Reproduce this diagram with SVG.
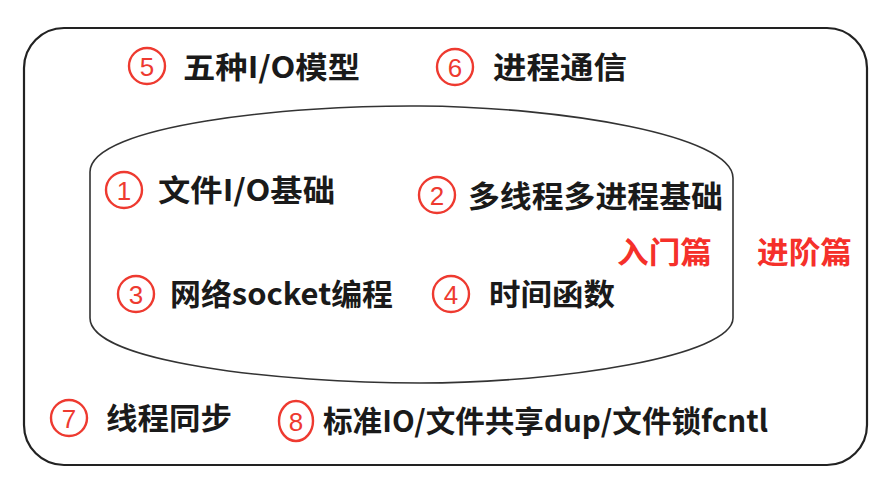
<svg xmlns="http://www.w3.org/2000/svg" width="889" height="489" viewBox="0 0 889 489">
<defs>
<style>
.frame{fill:none;stroke:#222;stroke-width:2.2}
.blob{fill:none;stroke:#333;stroke-width:1.6}
.circ{fill:#fff;stroke:#ee3a30;stroke-width:2.4}
.num{fill:#ee3a30;font-family:"Liberation Sans","Noto Sans",sans-serif;font-size:26px;text-anchor:middle}
.lbl{fill:#1a1a1a;font-family:"Noto Sans CJK SC","Noto Sans",sans-serif;font-size:30px;font-weight:700}
.red{fill:#f5302a;font-family:"Noto Sans CJK SC",sans-serif;font-size:30px;font-weight:700}
</style>
</defs>
<rect width="889" height="489" fill="#fff"/>
<rect class="frame" x="24" y="28" width="843" height="437" rx="40" ry="40"/>
<g id="connectors"></g>
<path id="core" class="blob" d="M 90,172 C 90,125 290,105 420,106 C 560,107 733,135 733,178 L 733,318 C 733,356 560,383 420,383 C 280,383 90,362 90,318 Z"/>
<g id="n5"><circle class="circ" cx="147" cy="66" r="18"/><text class="num" x="147" y="75.5">5</text><text class="lbl" x="183" y="78" textLength="177" lengthAdjust="spacingAndGlyphs">五种I/O模型</text></g>
<g id="n6"><circle class="circ" cx="455" cy="67" r="18"/><text class="num" x="455" y="76.5">6</text><text class="lbl" x="493" y="78" textLength="134" lengthAdjust="spacingAndGlyphs">进程通信</text></g>
<g id="n1"><circle class="circ" cx="124" cy="190" r="18"/><text class="num" x="124" y="199.5">1</text><text class="lbl" x="158" y="201" textLength="177" lengthAdjust="spacingAndGlyphs">文件I/O基础</text></g>
<g id="n2"><circle class="circ" cx="437" cy="195" r="18"/><text class="num" x="437" y="204.5">2</text><text class="lbl" x="468" y="207" textLength="255" lengthAdjust="spacingAndGlyphs">多线程多进程基础</text></g>
<g id="n3"><circle class="circ" cx="136" cy="294" r="18"/><text class="num" x="136" y="303.5">3</text><text class="lbl" x="170" y="305" textLength="223" lengthAdjust="spacingAndGlyphs">网络socket编程</text></g>
<g id="n4"><circle class="circ" cx="451" cy="294" r="18"/><text class="num" x="451" y="303.5">4</text><text class="lbl" x="489" y="305" textLength="126" lengthAdjust="spacingAndGlyphs">时间函数</text></g>
<g id="intro"><text class="red" x="617" y="263" textLength="95" lengthAdjust="spacingAndGlyphs">入门篇</text></g>
<g id="advanced"><text class="red" x="757" y="263" textLength="95" lengthAdjust="spacingAndGlyphs">进阶篇</text></g>
<g id="n7"><circle class="circ" cx="69" cy="418" r="18"/><text class="num" x="69" y="427.5">7</text><text class="lbl" x="106" y="429" textLength="126" lengthAdjust="spacingAndGlyphs">线程同步</text></g>
<g id="n8"><ellipse class="circ" cx="296" cy="421" rx="17" ry="20"/><text class="num" x="296" y="430.5">8</text><text class="lbl" x="323" y="432" textLength="445" lengthAdjust="spacingAndGlyphs">标准IO/文件共享dup/文件锁fcntl</text></g>
</svg>
